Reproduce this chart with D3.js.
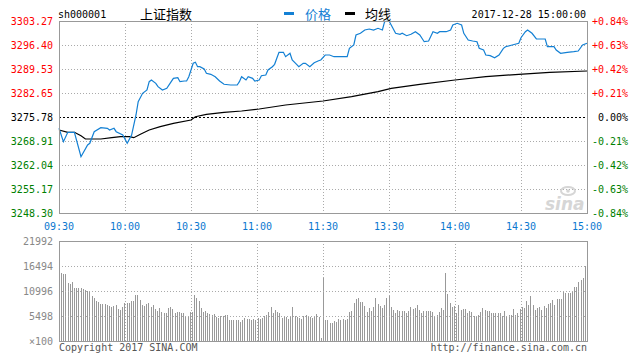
<!DOCTYPE html>
<html>
<head>
    <meta charset="utf-8">
    <title>sh000001 上证指数</title>
    <script src="https://d3js.org/d3.v7.min.js"></script>
    <style>
        body { margin: 0; background: #fff; }
        svg { display: block; }
        text { font-family: "DejaVu Sans Mono", monospace; font-size: 10px; }
        .cjk { font-family: "Noto Sans CJK SC", sans-serif; font-size: 13px; }
    </style>
</head>
<body>
<svg width="641" height="362"></svg>
<script>
    // time axis: minutes from open (11:30 and 13:00 share index 120)
    var timeLabels = ["09:30", "10:00", "10:30", "11:00", "11:30", "13:30", "14:00", "14:30", "15:00"];
    var timeTicks = [0, 30, 60, 90, 120, 150, 180, 210, 240];

    var priceLabels = ["3303.27", "3296.40", "3289.53", "3282.65", "3275.78", "3268.91", "3262.04", "3255.17", "3248.30"];
    var pctLabels = ["+0.84%", "+0.63%", "+0.42%", "+0.21%", "0.00%", "-0.21%", "-0.42%", "-0.63%", "-0.84%"];
    var volLabels = ["21992", "16494", "10996", "5498", "\u00d7100"];
    var prevClose = 3275.78;

    // price line
    var priceMin = [0, 2, 4, 7, 10, 13, 14, 16, 19, 22, 23, 25, 26, 29, 31, 33, 35, 36, 38, 40,
        41, 42, 44, 45, 47, 49, 51, 52, 54, 55, 57, 58, 59, 61, 62, 63, 64, 66, 67, 69,
        71, 73, 75, 78, 81, 82, 83, 85, 86, 88, 89, 91, 92, 94, 95, 97, 98, 99, 100, 102,
        103, 105, 106, 108, 109, 111, 112, 114, 116, 118, 119, 121, 123, 125, 131, 132, 134, 135, 137, 139,
        141, 143, 145, 147, 148, 150, 151, 153, 155, 156, 158, 160, 162, 164, 166, 168, 170, 172, 173, 176,
        178, 179, 181, 183, 184, 186, 188, 190, 191, 193, 194, 196, 198, 200, 202, 203, 206, 209, 210, 212,
        213, 215, 217, 221, 222, 225, 226, 228, 231, 234, 236, 238, 240];
    var price = [3272.55, 3268.71, 3271.40, 3271.40, 3264.42, 3267.77, 3268.25, 3271.58, 3272.72, 3272.55,
        3272.06, 3272.55, 3271.58, 3270.63, 3268.25, 3270.63, 3276.36, 3280.17, 3282.57, 3283.52,
        3285.89, 3286.38, 3285.43, 3284.46, 3283.52, 3284.00, 3285.89, 3286.86, 3287.04, 3285.89,
        3286.09, 3286.09, 3287.32, 3291.16, 3291.45, 3290.19, 3290.19, 3289.53, 3288.30, 3288.01,
        3287.32, 3286.09, 3285.15, 3284.95, 3284.95, 3285.89, 3287.32, 3286.38, 3287.32, 3286.86,
        3286.09, 3286.38, 3287.61, 3287.81, 3289.24, 3290.19, 3290.87, 3292.59, 3294.31, 3294.31,
        3293.05, 3294.02, 3292.10, 3290.87, 3290.19, 3291.16, 3291.16, 3290.19, 3291.33, 3291.90,
        3292.10, 3293.54, 3293.54, 3293.05, 3293.05, 3295.45, 3296.40, 3299.26, 3299.75, 3300.69,
        3300.98, 3300.69, 3301.18, 3300.69, 3303.07, 3303.27, 3302.12, 3299.75, 3299.46, 3299.75,
        3299.06, 3299.46, 3300.21, 3299.26, 3297.34, 3297.54, 3300.21, 3299.75, 3300.21, 3300.21,
        3300.69, 3302.12, 3302.61, 3302.12, 3299.75, 3297.83, 3297.54, 3297.34, 3295.45, 3294.97,
        3293.54, 3293.34, 3292.76, 3293.54, 3295.45, 3295.91, 3296.40, 3296.89, 3298.49, 3300.21,
        3300.69, 3299.75, 3298.12, 3298.12, 3295.91, 3295.91, 3294.97, 3294.02, 3294.31, 3294.48,
        3294.68, 3296.40, 3296.89];

    // average line
    var avgMin = [0, 4, 7, 10, 12, 19, 24, 28, 32, 34, 37, 41, 46, 52, 60, 62, 67, 75, 83, 91,
        103, 120, 133, 145, 151, 164, 180, 194, 209, 223, 240];
    var avgPrice = [3272.06, 3271.40, 3271.40, 3270.43, 3269.49, 3269.49, 3269.86, 3270.14, 3270.14, 3269.86,
        3270.83, 3272.06, 3273.01, 3273.98, 3274.93, 3275.87, 3276.56, 3277.13, 3277.50, 3278.08,
        3279.22, 3280.37, 3281.60, 3283.03, 3284.00, 3285.15, 3286.38, 3287.32, 3288.01, 3288.58,
        3288.96];

    // volume per minute (x100)
    var volume = [
        14880, 14660, 14660, 12680, 12540, 13050, 11730, 11730, 11730, 11730,
        11500, 11220, 11000, 10990, 9970, 9530, 8800, 8500, 8140, 8140,
        8140, 7920, 7700, 7400, 7700, 7920, 7040, 6820, 7550, 8280,
        8430, 8280, 8870, 8870, 10120, 10120, 9020, 7920, 7700, 8140,
        8280, 7550, 7920, 6960, 6670, 7180, 6450, 6230, 6230, 7180,
        7400, 7040, 6230, 6450, 6300, 6080, 6230, 5500, 5350, 6450,
        6450, 10120, 9380, 8870, 7180, 6450, 6670, 6080, 5940, 5720,
        5940, 5210, 4990, 5500, 5500, 5720, 5720, 4620, 4620, 4620,
        4620, 4620, 4250, 4620, 4990, 4770, 4770, 4620, 4770, 4620,
        4990, 4770, 4990, 5500, 5720, 6450, 7400, 6230, 6820, 6450,
        6080, 4990, 5350, 5210, 4770, 5210, 7400, 5500, 5210, 4990,
        4770, 5500, 5720, 5500, 5210, 4990, 5350, 5940, 5350, 600,
        13780, 4620, 4620, 3890, 3890, 4400, 4250, 4770, 4620, 4770,
        4620, 4770, 6300, 6600, 8280, 9240, 9380, 8650, 8650, 7700,
        6450, 7180, 6600, 7550, 9380, 8140, 7700, 7180, 7920, 9380,
        9900, 7550, 6820, 6230, 6820, 6600, 6600, 6600, 6230, 6600,
        7550, 6960, 7180, 7920, 6820, 6230, 6600, 6600, 6600, 6600,
        6450, 5500, 5720, 6450, 7180, 6820, 15020, 10340, 8430, 7400,
        7700, 6230, 7920, 6820, 7040, 7040, 6080, 6600, 6450, 5500,
        5500, 5720, 6450, 7180, 6820, 6670, 6670, 6080, 6080, 6080,
        6230, 6230, 5500, 6600, 5500, 5720, 5720, 6960, 5720, 6080,
        6960, 7400, 7180, 8870, 7920, 9900, 7920, 6820, 7180, 7550,
        6820, 7700, 7180, 8140, 8430, 9020, 7920, 9240, 9240, 9240,
        10850, 10630, 10630, 10480, 11000, 11950, 11800, 13050, 13420, 13780,
        16490];

    var svg = d3.select("svg");
    var plotL = 59, plotR = 587, plotT = 21, plotB = 213;
    var volT = 241, volB = 341;

    var x = d3.scaleLinear().domain([0, 240]).range([plotL, plotR]);
    var xv = d3.scaleLinear().domain([0, 240]).range([plotL + 2, plotR - 2]);
    var y = d3.scaleLinear().domain([3248.30, 3303.27]).range([plotB, plotT]);
    var yv = d3.scaleLinear().domain([0, 21992]).range([volB, volT]);
    var yRow = d3.scaleLinear().domain([0, 8]).range([plotT, plotB]);
    var yvRow = d3.scaleLinear().domain([0, 4]).range([volT, volB]);

    var gridColor = "#aaa";

    // ---- price panel grid
    var grid = svg.append("g").attr("shape-rendering", "crispEdges");
    d3.range(1, 8).forEach(function(r) {
        if (r == 4) return;
        grid.append("line")
            .attr("x1", plotL).attr("x2", plotR)
            .attr("y1", Math.round(yRow(r)) + 0.5).attr("y2", Math.round(yRow(r)) + 0.5)
            .attr("stroke", gridColor).attr("stroke-dasharray", "1,2");
    });
    timeTicks.slice(1, -1).forEach(function(t) {
        grid.append("line")
            .attr("x1", Math.round(x(t)) + 0.5).attr("x2", Math.round(x(t)) + 0.5)
            .attr("y1", plotT).attr("y2", plotB)
            .attr("stroke", gridColor).attr("stroke-dasharray", "1,2");
        grid.append("line")
            .attr("x1", Math.round(x(t)) + 0.5).attr("x2", Math.round(x(t)) + 0.5)
            .attr("y1", volT).attr("y2", volB)
            .attr("stroke", gridColor).attr("stroke-dasharray", "1,2");
    });

    // sina watermark
    var wm = svg.append("g").attr("fill", "#d6d6d6");
    wm.append("text").attr("x", 545).attr("y", 210)
        .style("font-family", "DejaVu Sans, sans-serif").style("font-size", "17px")
        .style("font-weight", "bold").style("font-style", "italic")
        .text("sina");
    wm.append("ellipse").attr("cx", 568).attr("cy", 191).attr("rx", 7).attr("ry", 4)
        .attr("fill", "none").attr("stroke", "#d6d6d6").attr("stroke-width", 2);
    wm.append("circle").attr("cx", 568).attr("cy", 191).attr("r", 1.8);

    // previous close
    svg.append("line")
        .attr("x1", plotL).attr("x2", plotR)
        .attr("y1", Math.round(y(prevClose)) + 0.5).attr("y2", Math.round(y(prevClose)) + 0.5)
        .attr("stroke", "#000").attr("stroke-dasharray", "2,2")
        .attr("shape-rendering", "crispEdges");

    // average and price lines
    var avgData = avgMin.map(function(m, i) { return [m, avgPrice[i]]; });
    var priceData = priceMin.map(function(m, i) { return [m, price[i]]; });
    var line = d3.line()
        .x(function(d) { return x(d[0]); })
        .y(function(d) { return y(d[1]); });

    svg.append("path").datum(avgData)
        .attr("d", line).attr("fill", "none")
        .attr("stroke", "#000").attr("stroke-width", 1.2);
    svg.append("path").datum(priceData)
        .attr("d", line).attr("fill", "none")
        .attr("stroke", "#1380d4").attr("stroke-width", 1.2);

    // volume bars
    svg.append("g").attr("shape-rendering", "crispEdges")
        .selectAll("rect").data(volume).enter().append("rect")
        .attr("x", function(d, i) { return Math.round(xv(i)); })
        .attr("y", function(d) { return yv(d); })
        .attr("width", 1)
        .attr("height", function(d) { return volB - yv(d); })
        .attr("fill", "#999");

    var vgrid = svg.append("g").attr("shape-rendering", "crispEdges");
    d3.range(1, 4).forEach(function(r) {
        vgrid.append("line")
            .attr("x1", plotL).attr("x2", plotR)
            .attr("y1", Math.round(yvRow(r)) + 0.5).attr("y2", Math.round(yvRow(r)) + 0.5)
            .attr("stroke", gridColor).attr("stroke-dasharray", "1,2");
    });

    // panel borders
    svg.append("rect").attr("x", plotL + 0.5).attr("y", plotT + 0.5)
        .attr("width", plotR - plotL).attr("height", plotB - plotT)
        .attr("fill", "none").attr("stroke", "#999").attr("shape-rendering", "crispEdges");
    svg.append("rect").attr("x", plotL + 0.5).attr("y", volT + 0.5)
        .attr("width", plotR - plotL).attr("height", volB - volT)
        .attr("fill", "none").attr("stroke", "#999").attr("shape-rendering", "crispEdges");

    // axis labels
    function rowColor(i) { return i < 4 ? "#f00" : (i == 4 ? "#000" : "#008000"); }
    svg.append("g").selectAll("text").data(priceLabels).enter().append("text")
        .attr("x", 53).attr("y", function(d, i) { return yRow(i); })
        .attr("dy", "0.35em").attr("text-anchor", "end")
        .attr("fill", function(d, i) { return rowColor(i); })
        .text(function(d) { return d; });
    svg.append("g").selectAll("text").data(pctLabels).enter().append("text")
        .attr("x", 628).attr("y", function(d, i) { return yRow(i); })
        .attr("dy", "0.35em").attr("text-anchor", "end")
        .attr("fill", function(d, i) { return rowColor(i); })
        .text(function(d) { return d; });
    svg.append("g").selectAll("text").data(timeLabels).enter().append("text")
        .attr("x", function(d, i) { return x(timeTicks[i]); }).attr("y", 226)
        .attr("dy", "0.35em").attr("text-anchor", "middle")
        .attr("fill", "#0a78d0")
        .text(function(d) { return d; });
    svg.append("g").selectAll("text").data(volLabels).enter().append("text")
        .attr("x", 53).attr("y", function(d, i) { return yvRow(i); })
        .attr("dy", "0.35em").attr("text-anchor", "end")
        .attr("fill", "#888")
        .text(function(d) { return d; });

    // header
    svg.append("text").attr("x", 58).attr("y", 14).attr("dy", "0.35em").attr("fill", "#000").text("sh000001");
    svg.append("text").attr("class", "cjk").attr("x", 140).attr("y", 14).attr("dy", "0.35em")
        .attr("fill", "#000").text("上证指数");
    svg.append("rect").attr("x", 284).attr("y", 12).attr("width", 10).attr("height", 3).attr("fill", "#1380d4");
    svg.append("text").attr("class", "cjk").attr("x", 305).attr("y", 14).attr("dy", "0.35em")
        .attr("fill", "#1380d4").text("价格");
    svg.append("rect").attr("x", 345).attr("y", 12).attr("width", 10).attr("height", 3).attr("fill", "#000");
    svg.append("text").attr("class", "cjk").attr("x", 365).attr("y", 14).attr("dy", "0.35em")
        .attr("fill", "#000").text("均线");
    svg.append("text").attr("x", 586).attr("y", 14).attr("dy", "0.35em").attr("text-anchor", "end")
        .attr("fill", "#000").text("2017-12-28 15:00:00");

    // footer
    svg.append("text").attr("x", 59).attr("y", 347).attr("dy", "0.35em").attr("fill", "#555")
        .text("Copyright 2017 SINA.COM");
    svg.append("text").attr("x", 587).attr("y", 347).attr("dy", "0.35em").attr("text-anchor", "end")
        .attr("fill", "#555").text("http://finance.sina.com.cn");
</script>
</body>
</html>
